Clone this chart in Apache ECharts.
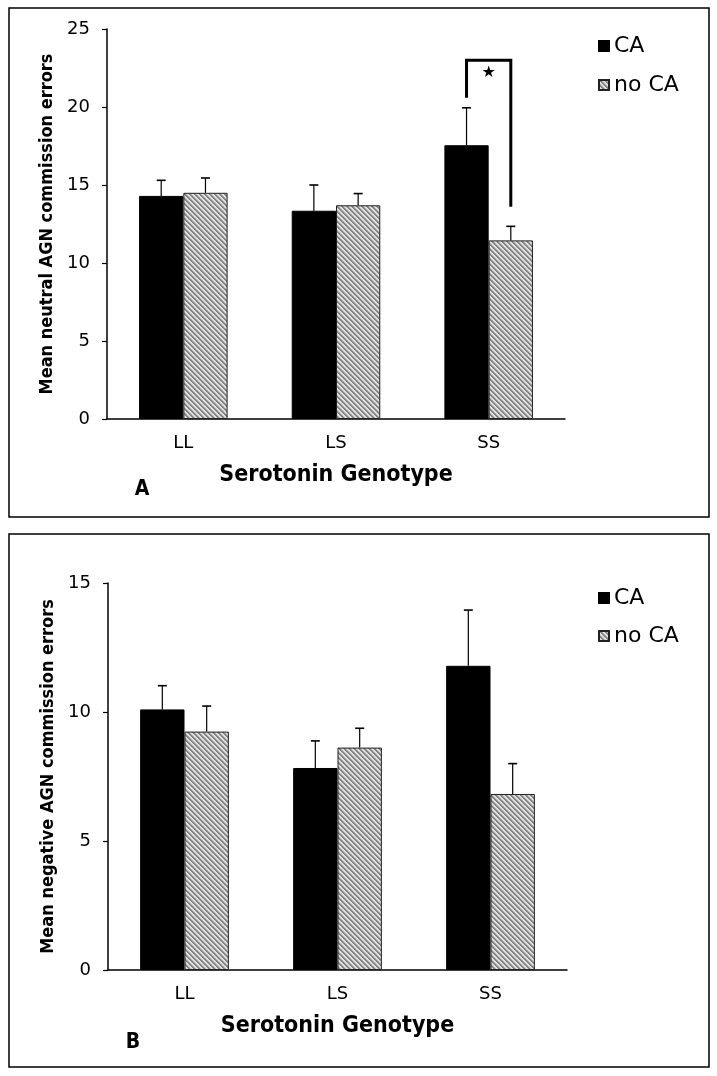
<!DOCTYPE html>
<html>
<head>
<meta charset="utf-8">
<script src="https://cdn.jsdelivr.net/npm/echarts@6/dist/echarts.min.js"></script>
<style>
html,body{margin:0;padding:0;background:#fff;}
#chart{width:717px;height:1076px;}
</style>
</head>
<body>
<div id="chart"></div>
<script>
// ---- data ----
var categories = ['LL', 'LS', 'SS'];
var neutralCA = [14.3, 13.35, 17.55];
var neutralCAErr = [1.0, 1.65, 2.4];
var neutralNoCA = [14.5, 13.7, 11.45];
var neutralNoCAErr = [0.95, 0.75, 0.9];
var negativeCA = [10.1, 7.83, 11.79];
var negativeCAErr = [0.92, 1.05, 2.16];
var negativeNoCA = [9.24, 8.62, 6.82];
var negativeNoCAErr = [0.99, 0.75, 1.18];
// significance bracket: [category index, top, left leg bottom, right leg bottom, star y]
var bracketA = [[2, 23.0, 20.6, 13.6, 22.2]];
var seriesNames = ['CA', 'no CA'];

// ---- hatch pattern ----
var P = 5;
var pc = document.createElement('canvas');
pc.width = P; pc.height = P;
var pctx = pc.getContext('2d');
for (var yy = 0; yy < P; yy++) {
  for (var xx = 0; xx < P; xx++) {
    var k = (((xx - yy) % P) + P) % P;
    pctx.fillStyle = k < 2 ? '#858585' : (k === 2 ? '#b5b5b5' : '#e0e0e0');
    pctx.fillRect(xx, yy, 1, 1);
  }
}
var hatch = { image: pc, repeat: 'repeat' };

var GAP = 0.42;
function errRender(side) {
  return function (params, api) {
    var c = api.value(0), v = api.value(1), e = api.value(2);
    var band = api.size([1, 0])[0];
    var bw = band * (1 - GAP) / 2;
    var p0 = api.coord([c, v]);
    var p1 = api.coord([c, v + e]);
    var x = p0[0] + side * bw / 2;
    return {
      type: 'group',
      children: [
        { type: 'line', shape: { x1: x, y1: p0[1], x2: x, y2: p1[1] }, style: { stroke: '#000', lineWidth: 1.2 } },
        { type: 'line', shape: { x1: x - 4.5, y1: p1[1], x2: x + 4.5, y2: p1[1] }, style: { stroke: '#000', lineWidth: 1.6 } }
      ]
    };
  };
}
function bracketRender(params, api) {
  var c = api.value(0), top = api.value(1), lb = api.value(2), rb = api.value(3), sy = api.value(4);
  var band = api.size([1, 0])[0];
  var bw = band * (1 - GAP) / 2;
  var pc0 = api.coord([c, top]);
  var xl = pc0[0] - bw / 2, xr = pc0[0] + bw / 2;
  var yTop = pc0[1];
  var yl = api.coord([c, lb])[1], yr = api.coord([c, rb])[1];
  var ys = api.coord([c, sy])[1];
  return {
    type: 'group',
    children: [
      { type: 'polyline', shape: { points: [[xl, yl], [xl, yTop], [xr, yTop], [xr, yr]] },
        style: { stroke: '#000', lineWidth: 3, fill: null } },
      { type: 'text', x: pc0[0], y: ys,
        style: { text: '\u2605', fill: '#000', fontSize: 16, fontFamily: 'DejaVu Sans', align: 'center', verticalAlign: 'middle' } }
    ]
  };
}
function toTriples(vals, errs) {
  return vals.map(function (v, i) { return [i, v, errs[i]]; });
}

var titleFamily = "'DejaVu Sans Condensed', 'DejaVu Sans'";

function xAxisFor(gi) {
  return {
    type: 'category', gridIndex: gi, data: categories,
    axisLine: { lineStyle: { color: '#000', width: 1.5 } },
    axisTick: { show: false },
    axisLabel: { color: '#000', fontSize: 18, fontFamily: 'DejaVu Sans', margin: 15 },
    name: 'Serotonin Genotype', nameLocation: 'middle', nameGap: 45,
    nameTextStyle: { color: '#000', fontSize: 23, fontWeight: 'bold', fontFamily: titleFamily }
  };
}
function yAxisFor(gi, max, name) {
  return {
    type: 'value', gridIndex: gi, min: 0, max: max, interval: 5,
    axisLine: { show: true, lineStyle: { color: '#000', width: 1.5 } },
    axisTick: { show: true, length: 5, lineStyle: { color: '#000', width: 1.2 } },
    splitLine: { show: false },
    axisLabel: { color: '#000', fontSize: 18, fontFamily: 'DejaVu Sans', margin: 17 },
    name: name, nameLocation: 'middle', nameRotate: 90, nameGap: 48,
    nameTextStyle: { color: '#000', fontSize: 18, fontWeight: 'bold', fontFamily: titleFamily }
  };
}
function barSeries(name, gi, data, isHatch) {
  return {
    type: 'bar', name: name, xAxisIndex: gi, yAxisIndex: gi, data: data,
    barGap: '0%', barCategoryGap: (GAP * 100) + '%',
    itemStyle: isHatch ? { color: hatch, borderColor: '#222', borderWidth: 1 } : { color: '#000', borderColor: '#000', borderWidth: 1 },
    emphasis: { disabled: true }, animation: false
  };
}
function errSeries(gi, vals, errs, side) {
  return {
    type: 'custom', name: 'err' + gi + side, xAxisIndex: gi, yAxisIndex: gi,
    renderItem: errRender(side), data: toTriples(vals, errs), z: 5,
    encode: { x: 0, y: 1 }, animation: false, silent: true
  };
}
var legendText = { color: '#000', fontSize: 22, fontFamily: 'DejaVu Sans', lineHeight: 22 };

var chart = echarts.init(document.getElementById('chart'), null, { renderer: 'canvas' });
chart.setOption({
  animation: false,
  backgroundColor: '#fff',
  grid: [
    { left: 107, top: 29, width: 458, height: 390 },
    { left: 108, top: 583, width: 459, height: 387 }
  ],
  legend: [
    { data: seriesNames, orient: 'vertical', left: 593, top: 30, itemGap: 17, itemWidth: 10, itemHeight: 10, icon: 'rect', textStyle: legendText, selectedMode: false },
    { data: seriesNames, orient: 'vertical', left: 593, top: 582, itemGap: 16, itemWidth: 10, itemHeight: 10, icon: 'rect', textStyle: legendText, selectedMode: false }
  ],
  xAxis: [xAxisFor(0), xAxisFor(1)],
  yAxis: [
    yAxisFor(0, 25, 'Mean neutral AGN commission errors'),
    yAxisFor(1, 15, 'Mean negative AGN commission errors')
  ],
  series: [
    barSeries('CA', 0, neutralCA, false),
    barSeries('no CA', 0, neutralNoCA, true),
    barSeries('CA', 1, negativeCA, false),
    barSeries('no CA', 1, negativeNoCA, true),
    errSeries(0, neutralCA, neutralCAErr, -1),
    errSeries(0, neutralNoCA, neutralNoCAErr, 1),
    errSeries(1, negativeCA, negativeCAErr, -1),
    errSeries(1, negativeNoCA, negativeNoCAErr, 1),
    {
      type: 'custom', name: 'bracket', xAxisIndex: 0, yAxisIndex: 0,
      renderItem: bracketRender, data: bracketA, z: 6,
      encode: { x: 0, y: 1 }, animation: false, silent: true
    }
  ],
  graphic: [
    { type: 'rect', shape: { x: 9, y: 8, width: 700, height: 509 }, style: { fill: null, stroke: '#000', lineWidth: 1.5 } },
    { type: 'rect', shape: { x: 9, y: 534, width: 700, height: 533 }, style: { fill: null, stroke: '#000', lineWidth: 1.5 } },
    { type: 'text', x: 142, y: 490, style: { text: 'A', fill: '#000', fontSize: 21, fontWeight: 'bold', fontFamily: titleFamily, align: 'center', verticalAlign: 'middle' } },
    { type: 'text', x: 133, y: 1043, style: { text: 'B', fill: '#000', fontSize: 21, fontWeight: 'bold', fontFamily: titleFamily, align: 'center', verticalAlign: 'middle' } }
  ]
});
</script>
</body>
</html>
